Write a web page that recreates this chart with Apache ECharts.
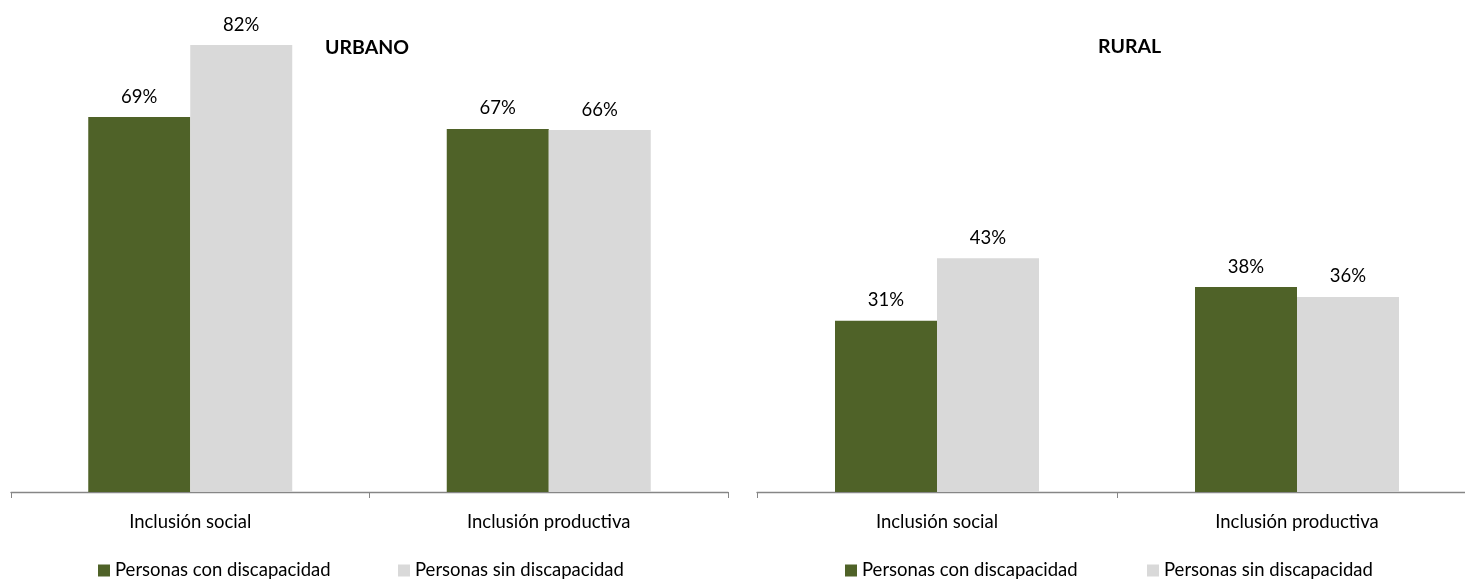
<!DOCTYPE html>
<html><head><meta charset="utf-8">
<script src="https://cdn.jsdelivr.net/npm/echarts@6/dist/echarts.min.js"></script>
<style>html,body{margin:0;padding:0;background:#fff}#c{width:1465px;height:581px}</style>
</head><body><div id="c"></div>
<script>
const categories = ['Inclusión social', 'Inclusión productiva'];
const seriesNames = ['Personas con discapacidad', 'Personas sin discapacidad'];
const urbanCon = [68.8, 66.6];
const urbanSin = [82.0, 66.4];
const ruralCon = [31.4, 37.6];
const ruralSin = [42.9, 35.8];
const titles = ['URBANO', 'RURAL'];

const FONT = 'Lato, "Open Sans", sans-serif';
const GREEN = '#4F6228', GREY = '#D9D9D9';
const chart = echarts.init(document.getElementById('c'));

const grids = [
  {left: 11, width: 717, top: 1.5, height: 490.5, outerBoundsMode: 'none'},
  {left: 757, width: 720, top: 1.5, height: 490.5, outerBoundsMode: 'none'}
];
function xAxis(i){
  return {type:'category', gridIndex:i, data:categories,
    axisLine:{lineStyle:{color:'#868686', width:1.3}},
    axisTick:{show:true, length:6, lineStyle:{color:'#868686'}},
    axisLabel:{color:'#000', fontSize:18.5, fontFamily:FONT, margin:21}};
}
function yAxis(i){
  return {type:'value', gridIndex:i, min:0, max:90, show:false, splitLine:{show:false}};
}
function bar(name, data, i, color){
  return {type:'bar', name:name, data:data, xAxisIndex:i, yAxisIndex:i,
    barWidth:102, barGap:'0%', itemStyle:{color:color},
    label:{show:true, position:'top', distance:11, color:'#000', fontSize:18.5, fontFamily:FONT, formatter:p=>Math.round(p.value)+'%'}};
}
function legend(name, left){
  return {data:[name], left:left, top:561, padding:0, itemWidth:12, itemHeight:12, itemGap:5, icon:'rect',
    textStyle:{fontSize:18.5, fontFamily:FONT, color:'#000'}, selectedMode:false};
}
chart.setOption({
  animation:false,
  title:[
    {text:titles[0], left:320, top:33, textStyle:{fontSize:19.5, fontWeight:'bold', fontFamily:FONT, color:'#000'}},
    {text:titles[1], left:1093, top:32, textStyle:{fontSize:19.5, fontWeight:'bold', fontFamily:FONT, color:'#000'}}
  ],
  grid:grids,
  xAxis:[xAxis(0), xAxis(1)],
  yAxis:[yAxis(0), yAxis(1)],
  legend:[legend(seriesNames[0], 98), legend(seriesNames[1], 398), legend(seriesNames[0], 845), legend(seriesNames[1], 1147)],
  series:[
    bar(seriesNames[0], urbanCon, 0, GREEN),
    bar(seriesNames[1], urbanSin, 0, GREY),
    bar(seriesNames[0], ruralCon, 1, GREEN),
    bar(seriesNames[1], ruralSin, 1, GREY)
  ]
});
</script></body></html>
